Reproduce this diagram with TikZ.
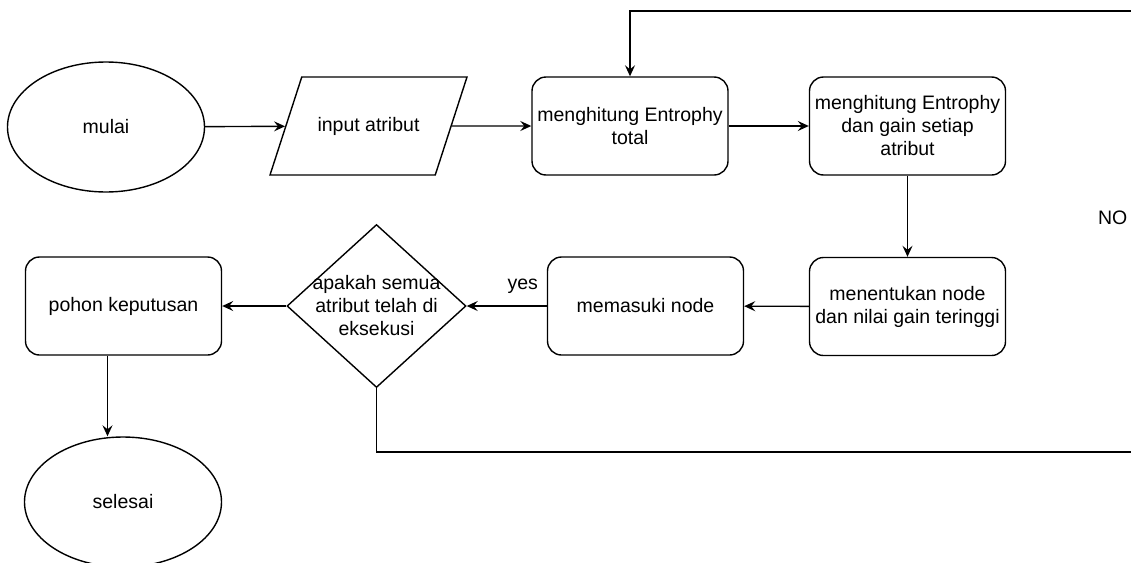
\documentclass[tikz,border=0pt]{standalone}
\usepackage{fontspec}
\setmainfont{Liberation Sans}
\usetikzlibrary{arrows.meta,shapes.geometric,positioning}

\begin{document}
\begin{tikzpicture}[
x=1pt, y=-1pt,
font=\fontsize{19.5}{23}\selectfont,
line width=1.4pt,
proses/.style={draw, rounded corners=14pt, minimum width=196pt, minimum height=98pt, inner sep=1pt, align=center},
terminal/.style={draw, ellipse, minimum width=197pt, minimum height=130pt},
masukan/.style={draw, trapezium, trapezium left angle=72, trapezium right angle=108, inner ysep=39.8pt, minimum width=197pt, minimum height=98pt, trapezium stretches body},
cabang/.style={draw, diamond, minimum width=179pt, minimum height=163pt, inner sep=0pt},
panah/.style={-{Stealth[length=11pt,width=10pt,inset=4pt]}}
]
    % frame of the picture
    \useasboundingbox (0,0) rectangle (1131,562);
    \clip (0,0) rectangle (1131,562);

    % top row
    \node[terminal] (mulai) at (106,127) {mulai};
    \node[masukan] (input) at (368.5,126) {input atribut};
    \node[proses] (total) at (630,126) {menghitung Entrophy\\total};
    \node[proses] (gain) at (907.5,126) {menghitung Entrophy\\dan gain setiap\\atribut};

    % bottom row
    \node[proses] (tentu) at (907.5,306.5) {menentukan node\\dan nilai gain teringgi};
    \node[proses] (masuk) at (645.5,306) {memasuki node};
    \node[cabang, label={[align=center]center:apakah semua\\atribut telah di\\eksekusi}] (cek) at (376.5,306) {};
    \node[proses] (pohon) at (123.5,306) {pohon keputusan};
    \node[terminal] (selesai) at (123,502) {selesai};

    \coordinate (putarbawah) at (1136,452);
    \coordinate (putaratas) at (1136,11);

    % connectors
    \draw[panah] (mulai) -- (input);
    \draw[panah] (input) -- (total);
    \draw[panah] (total) -- (gain);
    \draw[panah] (gain) -- (tentu);
    \draw[panah] (tentu) -- (masuk);
    \draw[panah] (masuk) -- node[above, pos=0.3, yshift=8pt]{yes} (cek);
    \draw[panah] (cek) -- (pohon);
    \draw[panah] ([xshift=-16pt]pohon.south) -- ([xshift=-16pt]pohon.south |- selesai.north);
    \draw[panah] (cek.south) |- (putarbawah) -- node[left, pos=0.53, inner sep=8pt]{NO} (putaratas) -| (total.north);

\end{tikzpicture}
\end{document}
